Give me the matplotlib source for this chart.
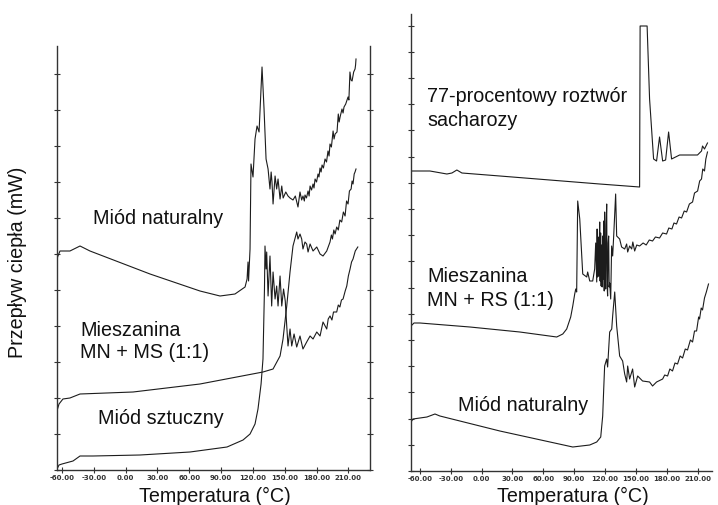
import matplotlib
matplotlib.use("Agg")
import matplotlib.pyplot as plt
from matplotlib.ticker import MultipleLocator

# ---------------- data (temperature in °C, heat flow in arbitrary mW units) -------------
tick_values = [-60, -30, 0, 30, 60, 90, 120, 150, 180, 210]
tick_labels = ["-60.00", "-30.00", "0.00", "30.00", "60.00", "90.00",
               "120.00", "150.00", "180.00", "210.00"]

# Left panel: natural honey
L_nat_T = [-64.7, -64.2, -61.9, -52.5, -43.0, -33.6, 23.0, 70.1, 89.0, 103.1, 112.6, 114.5,
           115.4, 115.9, 117.3, 118.2, 120.1, 122.0, 123.9, 125.8, 128.6, 130.5, 132.4,
           134.3, 136.1, 137.2, 138.0, 139.0, 140.9, 142.4, 143.7, 145.6, 147.2, 148.5,
           151.0, 153.1, 155.0, 157.8, 160.0, 162.5, 164.4, 166.0, 167.2, 168.5, 169.1,
           170.5, 172.0, 173.0, 173.9, 175.3, 176.7, 177.6, 178.6, 180.0, 181.4, 182.3,
           183.3, 184.3, 185.2, 186.5, 188.0, 189.4, 190.8, 191.8, 192.7, 194.0, 195.6,
           196.5, 197.5, 199.3, 200.5, 201.3, 202.2, 204.0, 205.0, 205.9, 207.5, 209.7,
           210.5, 211.5, 212.5, 213.5, 215.0, 216.3, 216.8, 217.2]
L_nat_H = [20.6, 21.3, 21.9, 21.9, 22.4, 21.9, 19.6, 17.9, 17.4, 17.6, 18.3, 19.1,
           20.8, 18.9, 22.1, 30.6, 29.3, 33.1, 34.4, 33.8, 40.3, 36.1, 31.1,
           30.1, 28.1, 29.8, 28.8, 26.6, 29.4, 28.1, 29.1, 27.1, 28.4, 27.2,
           27.8, 27.4, 27.2, 27.0, 27.4, 26.3, 27.8, 27.0, 27.4, 26.9, 27.5,
           27.2, 27.9, 27.4, 28.4, 28.0, 28.6, 28.2, 29.1, 28.8, 29.6, 29.3,
           30.2, 29.8, 30.5, 30.2, 31.1, 30.8, 31.9, 31.4, 32.6, 32.3, 33.9,
           33.1, 33.6, 33.8, 35.6, 34.8, 35.3, 36.1, 35.7, 36.3, 36.6, 37.3,
           37.0, 39.8, 39.0, 38.9, 39.8, 40.1, 40.5, 41.1]

# Left panel: mixture MN + MS (1:1)
L_mix_T = [-64.7, -64.2, -62.8, -59.1, -52.5, -43.0, 7.0, 70.1, 129.5, 139.0, 145.6,
           148.4, 151.9, 155.0, 157.8, 161.3, 162.5, 164.4, 166.0, 167.2, 169.1, 170.7,
           172.0, 173.9, 176.7, 180.2, 183.3, 186.1, 189.6, 192.7, 194.0, 195.0, 196.3,
           197.5, 199.0, 200.5, 202.0, 203.7, 205.3, 206.9, 208.3, 209.7, 211.0, 212.6,
           213.5, 214.4, 215.5, 216.3, 217.2]
L_mix_H = [6.9, 6.1, 6.6, 7.1, 7.2, 7.6, 7.8, 8.6, 9.8, 10.1, 11.4,
           13.1, 16.4, 19.8, 22.4, 23.8, 23.1, 23.6, 23.1, 22.1, 22.8, 22.6,
           21.8, 22.6, 21.9, 22.3, 21.6, 21.4, 21.9, 22.8, 23.5, 23.1, 24.0,
           23.6, 24.3, 24.0, 25.0, 24.8, 25.8, 25.4, 26.9, 26.6, 27.9, 28.1,
           28.9, 28.6, 29.6, 29.8, 30.1]

# Left panel: artificial honey
L_art_T = [-64.7, -62.8, -60.0, -49.6, -43.0, -30.8, 13.6, 60.7, 95.6, 110.7, 117.3, 122.0,
           124.8, 127.7, 129.5, 130.9, 131.4, 132.4, 133.0, 134.3, 136.1, 137.7, 139.0,
           140.9, 142.4, 143.7, 145.6, 147.2, 148.9, 150.5, 151.9, 153.1, 155.0, 156.6,
           158.8, 161.3, 164.4, 167.2, 170.7, 173.9, 176.7, 180.2, 183.3, 186.1, 189.6,
           191.0, 192.7, 194.5, 196.0, 199.0, 200.5, 202.0, 203.5, 205.0, 207.0, 208.5,
           210.0, 211.6, 213.0, 214.4, 216.5, 218.9]
L_art_H = [0.1, 0.5, 0.6, 0.9, 1.4, 1.4, 1.5, 1.8, 2.3, 3.0, 3.6, 4.6,
           6.1, 8.6, 11.1, 18.1, 22.4, 20.1, 21.8, 17.4, 21.4, 16.4, 19.8,
           17.1, 18.4, 16.4, 19.4, 16.4, 18.1, 16.9, 14.4, 12.4, 14.1, 12.4,
           13.6, 12.3, 13.4, 12.1, 12.8, 13.4, 13.1, 13.8, 13.4, 14.8, 14.1,
           15.1, 15.4, 15.0, 15.8, 15.8, 16.5, 16.3, 17.0, 17.1, 17.9, 18.4,
           19.4, 20.1, 20.8, 21.1, 21.9, 22.3]

# Right panel: 77% sucrose solution
R_suc_T = [-68.7, -50.3, -33.8, -28.9, -24.1, -19.2, 17.7, 66.2, 114.8, 153.6, 154.1,
           160.9, 163.3, 167.2, 170.1, 173.0, 176.0, 178.9, 181.8, 184.7, 192.5, 202.2,
           209.9, 213.8, 214.8, 216.7, 219.6]
R_suc_H = [30.0, 30.0, 29.7, 29.8, 30.1, 29.8, 29.5, 29.1, 28.7, 28.4, 44.5,
           44.5, 37.2, 31.2, 31.0, 33.4, 31.0, 31.1, 33.9, 31.2, 31.6, 31.6,
           31.6, 32.0, 32.5, 32.2, 32.8]

# Right panel: mixture MN + RS (1:1)
R_mix_T = [-68.7, -65.8, -60.0, -11.4, 37.1, 73.0, 78.9, 82.7, 86.6, 88.6, 90.5, 91.5,
           92.4, 93.4, 95.4, 98.3, 102.2, 103.1, 105.1, 108.0, 109.9, 110.9, 111.9, 112.3,
           112.8, 113.3, 113.8, 114.3, 114.8, 115.2, 115.7, 116.2, 116.7, 117.2, 117.7,
           118.2, 118.7, 119.2, 119.6, 120.1, 120.6, 121.1, 121.6, 122.0, 122.5, 123.0,
           123.5, 124.0, 124.5, 125.5, 126.4, 127.4, 128.4, 130.3, 131.3, 134.2, 136.1,
           139.1, 141.0, 142.0, 143.9, 145.9, 147.0, 148.8, 150.8, 153.6, 157.0, 160.0,
           163.0, 166.2, 169.0, 173.0, 176.0, 179.8, 182.0, 185.0, 187.0, 189.5, 192.0,
           194.4, 197.0, 199.3, 202.0, 205.1, 207.0, 210.0, 212.0, 213.8, 215.0, 216.7,
           218.0, 219.6]
R_mix_H = [14.5, 14.8, 14.8, 14.4, 13.9, 13.4, 13.7, 14.2, 15.4, 16.5, 17.7, 18.2,
           17.9, 27.0, 25.2, 19.7, 19.4, 19.9, 19.0, 19.0, 20.2, 22.8, 18.9, 24.2,
           19.4, 23.4, 19.5, 22.0, 24.9, 19.0, 23.8, 18.5, 22.6, 18.4, 23.5,
           19.2, 25.0, 18.0, 25.9, 19.5, 18.2, 24.6, 26.7, 18.6, 17.5, 22.8,
           23.5, 18.4, 18.8, 17.2, 22.5, 21.5, 23.5, 27.7, 23.5, 23.2, 22.4,
           22.2, 22.7, 21.9, 22.5, 22.2, 22.9, 22.0, 22.6, 22.5, 22.8, 22.6,
           23.1, 23.0, 23.4, 23.3, 23.8, 23.7, 24.3, 24.2, 24.8, 24.7, 25.4,
           25.3, 26.0, 25.9, 26.7, 26.9, 27.8, 28.0, 29.0, 29.2, 30.2, 30.0,
           31.2, 31.9]

# Right panel: natural honey
R_nat_T = [-68.7, -66.8, -53.2, -45.4, -40.6, 17.7, 88.6, 105.1, 111.9, 115.8, 117.7,
           118.7, 119.6, 121.6, 122.5, 124.5, 126.5, 127.4, 129.4, 131.3, 134.2, 137.1,
           139.1, 141.0, 142.0, 143.9, 146.8, 148.8, 151.7, 156.5, 163.3, 166.2, 170.1,
           176.0, 178.0, 180.8, 183.0, 185.6, 188.0, 190.5, 193.0, 195.4, 198.0, 200.2,
           203.0, 205.1, 207.0, 209.0, 211.0, 211.9, 213.5, 214.8, 216.7, 218.5, 220.6]
R_nat_H = [4.9, 5.2, 5.4, 5.7, 5.5, 4.0, 2.4, 2.6, 2.9, 3.4, 5.5,
           8.2, 10.5, 11.2, 10.4, 13.9, 14.2, 15.5, 17.9, 14.5, 11.5, 11.0,
           9.7, 8.9, 10.5, 9.2, 10.2, 8.4, 9.5, 9.0, 8.9, 8.5, 8.9,
           9.2, 9.6, 9.5, 10.2, 10.0, 10.8, 10.7, 11.5, 11.3, 12.2, 12.1,
           13.1, 12.9, 14.0, 14.0, 15.4, 15.2, 16.3, 16.1, 17.3, 17.9, 18.7]

# ---------------- figure -------------
W, H = 718, 506
fig = plt.figure(figsize=(W / 100, H / 100), dpi=100)
fig.patch.set_facecolor("white")
FONT = ["Liberation Sans", "DejaVu Sans"]
LC = "#1c1c1c"

def box(x0, y0, x1, y1):
    return [x0 / W, 1 - y1 / H, (x1 - x0) / W, (y1 - y0) / H]

axL = fig.add_axes(box(57, 47, 370, 471))
axR = fig.add_axes(box(411, 15, 712, 472))

def style(ax, xlim, ylim, ystep, right_spine):
    ax.set_xlim(*xlim)
    ax.set_ylim(*ylim)
    for s in ax.spines.values():
        s.set_color("#333333")
        s.set_linewidth(1.0)
    ax.spines["top"].set_visible(False)
    ax.spines["right"].set_visible(right_spine)
    ax.set_xticks(tick_values)
    ax.set_xticklabels(tick_labels, fontsize=5, fontweight="bold",
                       family=["Liberation Sans Narrow", "DejaVu Sans"], color="#333333")
    ax.yaxis.set_major_locator(MultipleLocator(ystep))
    ax.set_yticklabels([])
    ax.tick_params(axis="both", direction="inout", length=4, width=0.8, color="#333333",
                   pad=1)
    ax.tick_params(axis="y", right=right_spine)
    ax.set_facecolor("white")

style(axL, (-64.7, 230.4), (0, 42.4), 3.6, True)
style(axR, (-68.7, 224.0), (0, 45.7), 2.62, False)

for T, Hf in [(L_nat_T, L_nat_H), (L_mix_T, L_mix_H), (L_art_T, L_art_H)]:
    axL.plot(T, Hf, color=LC, lw=0.8)
for T, Hf in [(R_suc_T, R_suc_H), (R_mix_T, R_mix_H), (R_nat_T, R_nat_H)]:
    axR.plot(T, Hf, color=LC, lw=0.8)

FS = 14.2

def txt(x, y, s, **kw):
    fig.text(x / W, 1 - y / H, s, family=FONT, fontsize=FS, color="#111111",
             va="baseline", **kw)

txt(93, 224, "Miód naturalny")
txt(80, 336, "Mieszanina")
txt(80, 358, "MN + MS (1:1)")
txt(98, 424, "Miód sztuczny")
txt(427, 102, "77-procentowy roztwór")
txt(427, 126, "sacharozy")
txt(427, 282, "Mieszanina")
txt(427, 306, "MN + RS (1:1)")
txt(458, 411, "Miód naturalny")
txt(215, 502, "Temperatura (°C)", ha="center")
txt(573, 502, "Temperatura (°C)", ha="center")
fig.text(18 / W, 1 - 262 / H, "Przepływ ciepła (mW)", family=FONT, fontsize=FS,
         color="#111111", rotation=90, ha="center", va="center")

fig.savefig("out.png", dpi=100, facecolor="white")
